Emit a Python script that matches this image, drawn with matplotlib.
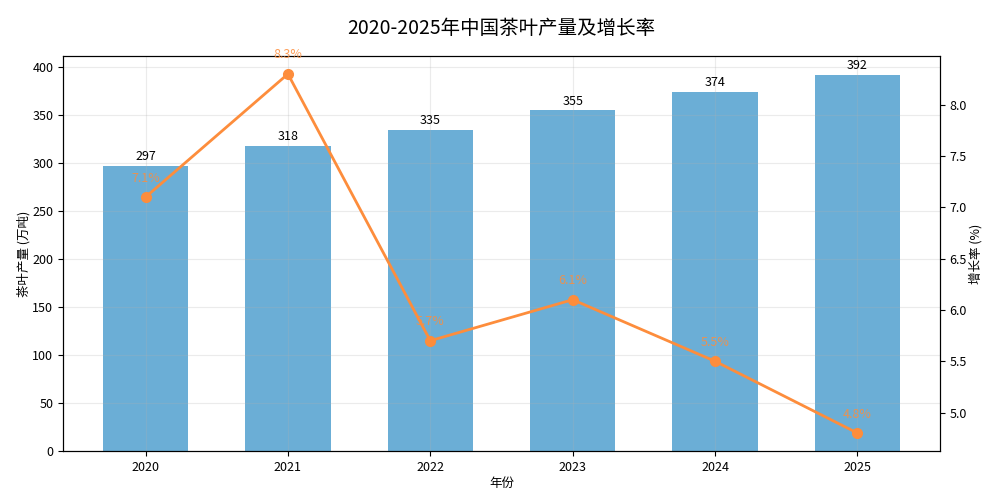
import numpy as np
import matplotlib
matplotlib.use("Agg")
import matplotlib.pyplot as plt

plt.rcParams['font.family'] = ['Noto Sans CJK SC', 'DejaVu Sans']
plt.rcParams['axes.unicode_minus'] = False

# 数据
years = ['2020', '2021', '2022', '2023', '2024', '2025']
output = [297, 318, 335, 355, 374, 392]          # 万吨
growth = [7.1, 8.3, 5.7, 6.1, 5.5, 4.8]          # %

x = np.arange(len(years))

fig, ax1 = plt.subplots(figsize=(9.95, 4.88), dpi=100)
fig.subplots_adjust(left=0.0633, right=0.9447, top=0.8852, bottom=0.0758)

bars = ax1.bar(x, output, width=0.6, color='#469acc', alpha=0.8, label='茶叶产量')
ax1.bar_label(bars, labels=[str(v) for v in output], padding=2, fontsize=9)
ax1.set_xticks(x)
ax1.set_xticklabels(years, fontsize=9)
ax1.tick_params(axis='y', labelsize=9)
ax1.set_xlabel('年份', fontsize=9, labelpad=2)
ax1.set_ylabel('茶叶产量 (万吨)', fontsize=9, labelpad=1)
ax1.grid(True, alpha=0.25)

ax2 = ax1.twinx()
ax2.plot(x, growth, '-o', color='#fd8d3c', linewidth=2, markersize=7, label='增长率')
for xi, g in zip(x, growth):
    ax2.annotate(f'{g}%', (xi, g), xytext=(0, 9), textcoords='offset points',
                 ha='center', va='bottom', fontsize=9, color='#fd8d3c', alpha=0.85)
ax2.set_ylabel('增长率 (%)', fontsize=9, labelpad=1)
ax2.tick_params(axis='y', labelsize=9)

ax1.set_title('2020-2025年中国茶叶产量及增长率', fontsize=14, pad=16)

plt.savefig('out.png', dpi=100)
plt.close('all')
